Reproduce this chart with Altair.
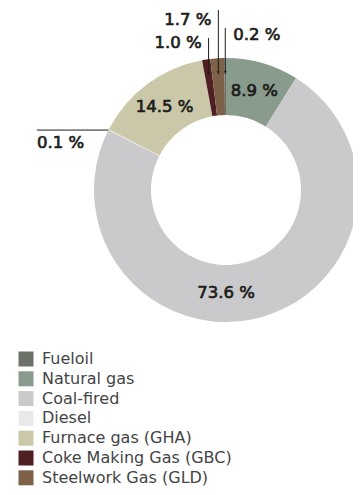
import math
import altair as alt
import pandas as pd

# ---- data ----
categories = ["Fueloil", "Natural gas", "Coal-fired", "Diesel",
              "Furnace gas (GHA)", "Coke Making Gas (GBC)", "Steelwork Gas (GLD)"]
shares = [0.2, 8.9, 73.6, 0.1, 14.5, 1.0, 1.7]
labels = ["0.2 %", "8.9 %", "73.6 %", "0.1 %", "14.5 %", "1.0 %", "1.7 %"]
ring_order = [6, 0, 1, 2, 3, 4, 5]  # clockwise position from 12 o'clock
colors = ["#6b7068", "#889b8d", "#cacacc", "#e8e9e8", "#cbc7a9", "#4e1f23", "#7d6148"]

# ---- layout ----
CX, CY = 218, 182
R_OUT, R_IN = 132, 75
R_LABEL = 103
FONT = "DejaVu Sans"
TXT = "#1d1d1b"

df = pd.DataFrame({"cat": categories, "share": shares, "label": labels, "ord": ring_order})

# cumulative angles (degrees, clockwise from top) derived from the data
tot = sum(shares)
start = {}
acc = 0.0
for i in sorted(range(len(categories)), key=lambda k: ring_order[k]):
    start[categories[i]] = acc
    acc += shares[i] / tot * 360
mid = {c: start[c] + dict(zip(categories, shares))[c] / tot * 180 for c in categories}


def pt(angle, r):
    a = math.radians(angle)
    return CX + r * math.sin(a), CY - r * math.cos(a)


# label placement styles
inside = {"Natural gas": None, "Furnace gas (GHA)": None, "Coal-fired": 180}
vertical = {  # category: (label y, line top y, side)
    "Fueloil": (27, 20, "right"),
    "Steelwork Gas (GLD)": (12, 2, "left"),
    "Coke Making Gas (GBC)": (35, 30, "left"),
}

text_rows, line_rows, tip_rows = [], [], []
for c, lab in zip(categories, labels):
    if c in inside:
        ang = inside[c] if inside[c] is not None else mid[c]
        x, y = pt(ang, R_LABEL)
        text_rows.append({"x": x, "y": y, "t": lab, "al": "center"})
    elif c in vertical:
        ly, top, side = vertical[c]
        ex, ey = pt(mid[c], 116)
        line_rows.append({"x": ex, "y": top, "x2": ex, "y2": ey})
        tip_rows.append({"x": ex, "y": ey - 2})
        if side == "right":
            text_rows.append({"x": ex + 8, "y": ly, "t": lab, "al": "left"})
        else:
            text_rows.append({"x": ex - 7, "y": ly, "t": lab, "al": "right"})
    else:  # Diesel: horizontal leader to the left
        ex, ey = pt(start[c], R_OUT)
        line_rows.append({"x": 29, "y": ey, "x2": ex, "y2": ey})
        text_rows.append({"x": 29, "y": ey + 13, "t": lab, "al": "left"})

tdf = pd.DataFrame(text_rows)
ldf = pd.DataFrame(line_rows)
pdf = pd.DataFrame(tip_rows)

arc = alt.Chart(df).mark_arc(innerRadius=R_IN, outerRadius=R_OUT).encode(
    theta=alt.Theta("share:Q", stack=True),
    order=alt.Order("ord:Q"),
    color=alt.Color(
        "cat:N",
        scale=alt.Scale(domain=categories, range=colors),
        sort=categories,
        legend=alt.Legend(
            title=None, orient="none", legendX=10, legendY=343,
            symbolType="square", symbolSize=225, symbolStrokeWidth=0,
            labelFont=FONT, labelFontSize=16, labelColor="#444444",
            labelOffset=8, rowPadding=3.8, labelLimit=320,
        ),
    ),
    x=alt.value(CX), y=alt.value(CY),
)

lines = alt.Chart(ldf).mark_rule(color="#1d1d1b", strokeWidth=1).encode(
    x=alt.X("x:Q", scale=None), y=alt.Y("y:Q", scale=None),
    x2="x2:Q", y2="y2:Q",
)

tips = alt.Chart(pdf).mark_point(shape="triangle-down", filled=True, size=8,
                                  color="#1d1d1b", opacity=1).encode(
    x=alt.X("x:Q", scale=None), y=alt.Y("y:Q", scale=None),
)


def text_layer(align):
    return alt.Chart(tdf[tdf["al"] == align]).mark_text(
        align=align, baseline="middle", font=FONT, fontSize=16.5,
        fontWeight="normal", color=TXT, stroke=TXT, strokeWidth=0.7,
    ).encode(x=alt.X("x:Q", scale=None), y=alt.Y("y:Q", scale=None), text="t:N")


chart = alt.layer(
    arc, lines, tips, text_layer("center"), text_layer("left"), text_layer("right")
).properties(
    width=345, height=479, padding=0, autosize="none"
).configure_view(stroke=None)

chart.save("out.html", embed_options={"renderer": "svg", "actions": False})
